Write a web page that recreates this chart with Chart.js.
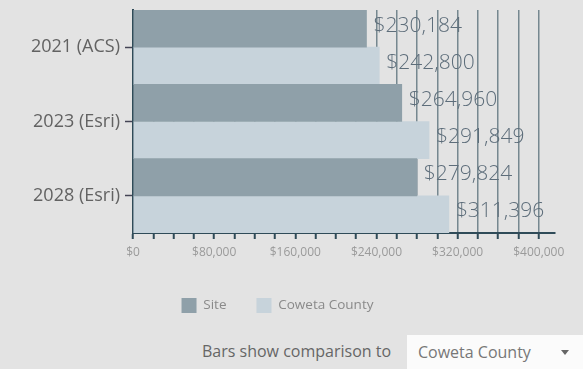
<!DOCTYPE html>
<html>
<head>
<meta charset="utf-8">
<script src="https://cdn.jsdelivr.net/npm/chart.js@4.4.1/dist/chart.umd.min.js"></script>
<style>
  html, body { margin: 0; padding: 0; background: #e3e3e3; }
  body { width: 583px; height: 369px; overflow: hidden; position: relative; font-family: "Open Sans", "DejaVu Sans", sans-serif; }
  #wrap { position: absolute; left: 0; top: 0; width: 583px; height: 323px; }
  #cmpLabel { position: absolute; left: 202px; top: 340px; font-size: 16px; line-height: 22px; color: #666; white-space: nowrap; }
  #dropdown { position: absolute; left: 407px; top: 335px; width: 176px; height: 34px; background: #fbfbfb; }
  #dropdown .txt { position: absolute; left: 11px; top: 6px; font-size: 16px; line-height: 22px; color: #777; white-space: nowrap; }
  #dropdown .arr { position: absolute; left: 154px; top: 15px; width: 0; height: 0; border-left: 4.5px solid transparent; border-right: 4.5px solid transparent; border-top: 5px solid #666; }
</style>
</head>
<body>
<div id="wrap"><canvas id="c" width="583" height="323"></canvas></div>
<div id="cmpLabel">Bars show comparison to</div>
<div id="dropdown"><span class="txt">Coweta County</span><span class="arr"></span></div>
<script>
const categories = ["2021 (ACS)", "2023 (Esri)", "2028 (Esri)"];
const seriesNames = ["Site", "Coweta County"];
const siteValues = [230184, 264960, 279824];
const countyValues = [242800, 291849, 311396];
const tickLabelValues = [0, 80000, 160000, 240000, 320000, 400000];
const gridStep = 20000;
const gridMax = 400000;

const fmt = v => "$" + v.toLocaleString("en-US");

const valueLabels = {
  id: "valueLabels",
  afterDatasetsDraw(chart) {
    const ctx = chart.ctx;
    ctx.save();
    ctx.font = "300 21px 'Open Sans', sans-serif";
    ctx.fillStyle = "#5d6d7a";
    ctx.textBaseline = "middle";
    ctx.textAlign = "left";
    chart.data.datasets.forEach((ds, di) => {
      const meta = chart.getDatasetMeta(di);
      meta.data.forEach((bar, i) => {
        ctx.fillText(fmt(ds.data[i]), bar.x + 7, bar.y - 3);
      });
    });
    ctx.restore();
  }
};

new Chart(document.getElementById("c"), {
  type: "bar",
  data: {
    labels: categories,
    datasets: [
      { label: seriesNames[0], data: siteValues, backgroundColor: "#8fa0a9", borderWidth: 0 },
      { label: seriesNames[1], data: countyValues, backgroundColor: "#c7d3db", borderWidth: 0 }
    ]
  },
  options: {
    indexAxis: "y",
    responsive: false,
    animation: false,
    devicePixelRatio: 1,
    layout: { padding: { top: 10, right: 28, left: 0, bottom: 0 } },
    datasets: { bar: { categoryPercentage: 1.0, barPercentage: 1.0 } },
    scales: {
      x: {
        min: 0,
        max: 416000,
        z: 1,
        afterBuildTicks(scale) {
          const t = [];
          for (let v = 0; v <= gridMax; v += gridStep) t.push({ value: v });
          scale.ticks = t;
        },
        afterFit(scale) { scale.height = 35; },
        ticks: {
          autoSkip: false,
          maxRotation: 0,
          padding: 6,
          color: "#9a9a9a",
          font: { family: "'Open Sans', sans-serif", size: 12 },
          callback: v => tickLabelValues.includes(v) ? fmt(v) : ""
        },
        grid: {
          color: "rgba(45,75,88,0.6)",
          lineWidth: 1.5,
          drawTicks: true,
          tickLength: 6,
          tickColor: "#2f4b58",
          tickWidth: 2
        },
        border: { display: true, color: "#2f4b58", width: 2 }
      },
      y: {
        afterFit(scale) {
          scale.width = 133;
          scale.paddingTop = 0;
          scale.paddingBottom = 0;
        },
        ticks: {
          color: "#626262",
          padding: 5,
          font: { family: "'Open Sans', sans-serif", size: 18 }
        },
        grid: { display: true, offset: false, drawOnChartArea: false, drawTicks: true, tickLength: 8, tickColor: "#445", tickWidth: 1.5 },
        border: { display: true, color: "#2f4b58", width: 2 }
      }
    },
    plugins: {
      legend: {
        position: "bottom",
        labels: {
          boxWidth: 15,
          boxHeight: 15,
          padding: 30,
          color: "#8a8a8a",
          font: { family: "'Open Sans', sans-serif", size: 13.5 }
        }
      },
      tooltip: { enabled: false }
    }
  },
  plugins: [valueLabels]
});
</script>
</body>
</html>
